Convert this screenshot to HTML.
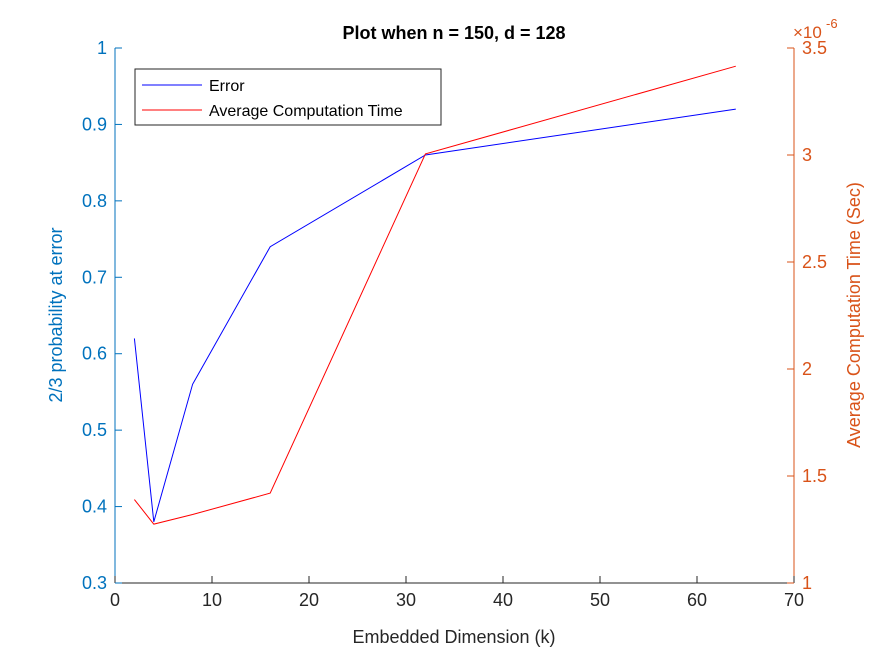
<!DOCTYPE html>
<html><head><meta charset="utf-8"><style>
body{margin:0;background:#fff}
svg{font-family:"Liberation Sans",Arial,sans-serif}
</style></head><body>
<svg id="c" width="875" height="656"></svg>
<script>
const kVals=[2,4,8,16,32,64];
const errVals=[0.62,0.38,0.56,0.74,0.86,0.92];
const timeVals=[1.39,1.275,1.32,1.42,3.005,3.415];
const xTicks=[0,10,20,30,40,50,60,70];
const yLTicks=[0.3,0.4,0.5,0.6,0.7,0.8,0.9,1];
const yRTicks=[1,1.5,2,2.5,3,3.5];
const yRLabels=["1","1.5","2","2.5","3","3.5"];

const L=115,R=794,T=48,B=583;
const xS=v=>L+(v-0)/70*(R-L);
const yL=v=>B-(v-0.3)/0.7*(B-T);
const yR=v=>B-(v-1)/2.5*(B-T);
const svg=document.getElementById('c');
const NS='http://www.w3.org/2000/svg';
function mk(t,a,txt){const e=document.createElementNS(NS,t);for(const k in a)e.setAttribute(k,a[k]);if(txt!=null)e.textContent=txt;svg.appendChild(e);return e;}
const BL='#0072BD',OR='#D95319';

let e;
e=mk('line',{x1:L,y1:B,x2:R,y2:B,stroke:'#262626','stroke-width':1});


e=mk('line',{x1:L,y1:T,x2:L,y2:B,stroke:BL,'stroke-width':1});


e=mk('line',{x1:R,y1:T,x2:R,y2:B,stroke:OR,'stroke-width':1});



xTicks.forEach(v=>{
 const x=xS(v);
 mk('line',{x1:x,y1:B,x2:x,y2:B-7,stroke:'#262626'});
 e=mk('text',{x:x,y:B+23,'text-anchor':'middle','font-size':18,fill:'#262626'},String(v));
 
 
});
yLTicks.forEach(v=>{
 const y=yL(v);
 mk('line',{x1:L,y1:y,x2:L+7,y2:y,stroke:BL});
 e=mk('text',{x:L-8,y:y+6,'text-anchor':'end','font-size':18,fill:BL},String(v));
 
 
});
yRTicks.forEach((v,i)=>{
 const y=yR(v);
 mk('line',{x1:R,y1:y,x2:R-7,y2:y,stroke:OR});
 e=mk('text',{x:R+8,y:y+6,'font-size':18,fill:OR},yRLabels[i]);
 
 
});
e=mk('text',{x:793,y:38,'font-size':17,fill:OR},'×10');


e=mk('text',{x:826,y:28,'font-size':13,fill:OR},'-6');



e=mk('polyline',{points:kVals.map((k,i)=>xS(k)+','+yL(errVals[i])).join(' '),fill:'none',stroke:'#0000FF','stroke-width':1});


e=mk('polyline',{points:kVals.map((k,i)=>xS(k)+','+yR(timeVals[i])).join(' '),fill:'none',stroke:'#FF0000','stroke-width':1});



e=mk('text',{x:454,y:39,'text-anchor':'middle','font-size':18,'font-weight':'bold',fill:'#000'},'Plot when n = 150, d = 128');


e=mk('text',{x:454,y:643,'text-anchor':'middle','font-size':18,fill:'#262626'},'Embedded Dimension (k)');


e=mk('text',{x:0,y:0,'text-anchor':'middle','font-size':18,fill:BL,transform:'translate(62,315) rotate(-90)'},'2/3 probability at error');


e=mk('text',{x:0,y:0,'text-anchor':'middle','font-size':18,fill:OR,transform:'translate(860,315) rotate(-90)'},'Average Computation Time (Sec)');



e=mk('rect',{x:135,y:69,width:306,height:56,fill:'#fff',stroke:'#262626','stroke-width':1});


mk('line',{x1:142,y1:85,x2:202,y2:85,stroke:'#0000FF'});
e=mk('text',{x:209,y:91,'font-size':16,fill:'#000'},'Error');


mk('line',{x1:142,y1:110,x2:202,y2:110,stroke:'#FF0000'});
e=mk('text',{x:209,y:116,'font-size':16,fill:'#000'},'Average Computation Time');


</script>
</body></html>
